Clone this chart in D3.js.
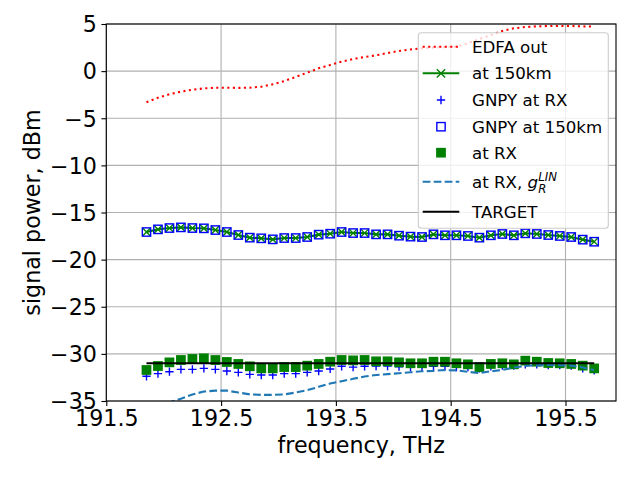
<!DOCTYPE html>
<html>
<head>
<meta charset="utf-8">
<script src="https://d3js.org/d3.v7.min.js"></script>
<style>
  body { margin: 0; background: #fff; }
  text { font-family: "DejaVu Sans", sans-serif; }
</style>
</head>
<body>
<div id="chart"></div>
<script>

let w = 640;
let h = 480;

// channel grid, 100 GHz spacing
let startFreq = 191.85;
let freqs = d3.range(40).map(i => +(startFreq + 0.1 * i).toFixed(2));

let xTicks = [191.5, 192.5, 193.5, 194.5, 195.5];
let yTicks = [-35, -30, -25, -20, -15, -10, -5, 0, 5];

let edfaOut = [-3.31, -2.82, -2.46, -2.18, -1.97, -1.83, -1.76, -1.76, -1.78, -1.76,
	-1.65, -1.40, -1.05, -0.62, -0.16, 0.30, 0.65, 1.00, 1.29, 1.50,
	1.68, 1.92, 2.14, 2.30, 2.42, 2.50, 2.55, 2.60, 2.95, 3.41,
	3.83, 4.26, 4.54, 4.68, 4.75, 4.79, 4.79, 4.79, 4.75, 4.72];

let at150km = [-17.07, -16.79, -16.65, -16.58, -16.65, -16.68, -16.86, -17.07, -17.39, -17.67,
	-17.74, -17.85, -17.71, -17.71, -17.60, -17.35, -17.25, -17.07, -17.18, -17.18,
	-17.32, -17.32, -17.46, -17.56, -17.60, -17.32, -17.42, -17.42, -17.49, -17.67,
	-17.42, -17.28, -17.42, -17.21, -17.28, -17.39, -17.49, -17.60, -17.88, -18.10];

let gnpyAtRx = [-32.38, -32.10, -31.89, -31.64, -31.64, -31.54, -31.64, -31.82, -31.96, -32.17,
	-32.24, -32.24, -32.10, -32.10, -31.96, -31.82, -31.60, -31.32, -31.40, -31.32,
	-31.29, -31.29, -31.36, -31.40, -31.40, -31.33, -31.33, -31.40, -31.40, -31.54,
	-31.33, -31.25, -31.25, -31.11, -31.11, -31.18, -31.18, -31.25, -31.54, -31.75];

let gnpyAt150km = [-17.07, -16.79, -16.65, -16.58, -16.65, -16.68, -16.86, -17.07, -17.39, -17.67,
	-17.74, -17.85, -17.71, -17.71, -17.60, -17.35, -17.25, -17.07, -17.18, -17.18,
	-17.32, -17.32, -17.46, -17.56, -17.60, -17.32, -17.42, -17.42, -17.49, -17.67,
	-17.42, -17.28, -17.42, -17.21, -17.28, -17.39, -17.49, -17.60, -17.88, -18.10];

let atRx = [-31.71, -31.29, -30.90, -30.65, -30.54, -30.47, -30.65, -30.86, -31.07, -31.32,
	-31.54, -31.54, -31.40, -31.40, -31.25, -31.07, -30.83, -30.65, -30.69, -30.65,
	-30.79, -30.79, -30.90, -31.00, -31.00, -30.83, -30.83, -31.00, -31.11, -31.40,
	-31.07, -31.00, -31.11, -30.72, -30.83, -30.97, -31.00, -31.07, -31.25, -31.54];

let atRxLin = [-36.0, -35.6, -35.15, -34.75, -34.3, -34.0, -33.9, -33.9, -34.1, -34.3,
	-34.35, -34.35, -34.3, -34.1, -33.85, -33.5, -33.15, -32.9, -32.65, -32.4,
	-32.25, -32.15, -32.05, -31.95, -31.85, -31.8, -31.72, -31.75, -31.9, -32.05,
	-31.85, -31.7, -31.45, -31.28, -31.22, -31.18, -31.2, -31.25, -31.45, -31.7];

let target = -31;

let margin = {left: 106.3, right: 24, top: 24, bottom: 79};

let svg = d3.select("#chart").append("svg")
	.attr("width", w)
	.attr("height", h)
	.style("background-color", "white")
;

let xScale = d3.scaleLinear().domain([191.5, 195.94]).range([margin.left, w - margin.right]);
let yScale = d3.scaleLinear().domain([-35, 5]).range([h - margin.bottom, margin.top]);

let fmt = d3.format("");

// grid
let grid = svg.append("g").attr("class", "grid");
grid.selectAll(".vgrid").data(xTicks).enter().append("line")
	.attr("x1", d => xScale(d)).attr("x2", d => xScale(d))
	.attr("y1", yScale.range()[0]).attr("y2", yScale.range()[1])
	.attr("stroke", "#b0b0b0").attr("stroke-width", 1.1);
grid.selectAll(".hgrid").data(yTicks).enter().append("line")
	.attr("y1", d => yScale(d)).attr("y2", d => yScale(d))
	.attr("x1", xScale.range()[0]).attr("x2", xScale.range()[1])
	.attr("stroke", "#b0b0b0").attr("stroke-width", 1.1);

// axes
let xAxis = d3.axisBottom(xScale).tickValues(xTicks).tickSize(4.9).tickPadding(4.5).tickFormat(d3.format(".1f"));
let yAxis = d3.axisLeft(yScale).tickValues(yTicks).tickSize(4.9).tickPadding(4.5).tickFormat(d3.format("d"));

let gx = svg.append("g").attr("transform", `translate(0,${yScale(-35)})`).call(xAxis);
let gy = svg.append("g").attr("transform", `translate(${xScale(191.5)},0)`).call(yAxis);
[gx, gy].forEach(g => {
	g.select(".domain").remove();
	g.selectAll(".tick line").attr("stroke", "black").attr("stroke-width", 1.1);
	g.selectAll(".tick text").attr("fill", "black").style("font-size", "22.2px");
});
gy.selectAll(".tick text").attr("dy", "0.35em");

// data
let clip = svg.append("clipPath").attr("id", "plotClip").append("rect")
	.attr("x", xScale.range()[0]).attr("y", yScale.range()[1])
	.attr("width", xScale.range()[1] - xScale.range()[0])
	.attr("height", yScale.range()[0] - yScale.range()[1]);

let plot = svg.append("g").attr("clip-path", "url(#plotClip)");

let line = d3.line().x(d => xScale(d[0])).y(d => yScale(d[1]));
let pairs = vals => freqs.map((f, i) => [f, vals[i]]);

let ms = 8.33;
let mw = 1.39;

function xMarker(g, cx, cy, color){
	let s = ms / 2;
	g.append("path")
		.attr("d", `M${cx - s},${cy - s}L${cx + s},${cy + s}M${cx - s},${cy + s}L${cx + s},${cy - s}`)
		.attr("stroke", color).attr("stroke-width", mw).attr("fill", "none");
}
function plusMarker(g, cx, cy, color){
	let s = ms / 2;
	g.append("path")
		.attr("d", `M${cx - s},${cy}L${cx + s},${cy}M${cx},${cy - s}L${cx},${cy + s}`)
		.attr("stroke", color).attr("stroke-width", mw).attr("fill", "none");
}
function squareMarker(g, cx, cy, stroke, fill){
	g.append("rect")
		.attr("x", cx - ms / 2).attr("y", cy - ms / 2)
		.attr("width", ms).attr("height", ms)
		.attr("stroke", stroke).attr("stroke-width", mw).attr("fill", fill);
}

// EDFA out
plot.append("path").datum(pairs(edfaOut))
	.attr("d", line).attr("fill", "none")
	.attr("stroke", "red").attr("stroke-width", 2.08)
	.attr("stroke-dasharray", "2.08,3.44");

// at 150km
plot.append("path").datum(pairs(at150km))
	.attr("d", line).attr("fill", "none")
	.attr("stroke", "green").attr("stroke-width", 2.08);
let g150 = plot.append("g");
pairs(at150km).forEach(d => xMarker(g150, xScale(d[0]), yScale(d[1]), "green"));

// GNPY at RX
let gGnRx = plot.append("g");
pairs(gnpyAtRx).forEach(d => plusMarker(gGnRx, xScale(d[0]), yScale(d[1]), "blue"));

// GNPY at 150km
let gGn150 = plot.append("g");
pairs(gnpyAt150km).forEach(d => squareMarker(gGn150, xScale(d[0]), yScale(d[1]), "blue", "none"));

// at RX
let gRx = plot.append("g");
pairs(atRx).forEach(d => squareMarker(gRx, xScale(d[0]), yScale(d[1]), "green", "green"));

// at RX, g_R^LIN
plot.append("path").datum(pairs(atRxLin))
	.attr("d", line).attr("fill", "none")
	.attr("stroke", "#1f77b4").attr("stroke-width", 2.08)
	.attr("stroke-dasharray", "7.7,3.3");

// TARGET
plot.append("path").datum([[freqs[0], target], [freqs[freqs.length - 1], target]])
	.attr("d", line).attr("fill", "none")
	.attr("stroke", "black").attr("stroke-width", 2.08);

// frame
svg.append("rect")
	.attr("x", xScale.range()[0]).attr("y", yScale.range()[1])
	.attr("width", xScale.range()[1] - xScale.range()[0])
	.attr("height", yScale.range()[0] - yScale.range()[1])
	.attr("fill", "none").attr("stroke", "black").attr("stroke-width", 1.1);

// axis labels
svg.append("text")
	.attr("x", (xScale.range()[0] + xScale.range()[1]) / 2).attr("y", 453)
	.attr("text-anchor", "middle").style("font-size", "22.2px")
	.text("frequency, THz");
svg.append("text")
	.attr("transform", `translate(40,${(yScale.range()[0] + yScale.range()[1]) / 2}) rotate(-90)`)
	.attr("text-anchor", "middle").style("font-size", "22.2px")
	.text("signal power, dBm");

// legend
let legend = svg.append("g").attr("class", "legend");
legend.append("rect")
	.attr("x", 418.3).attr("y", 32.7).attr("width", 190).attr("height", 195.6)
	.attr("rx", 3).attr("ry", 3)
	.attr("fill", "white").attr("fill-opacity", 0.8)
	.attr("stroke", "#cccccc").attr("stroke-width", 1.1);

let rowY = [46.7, 73.3, 100, 126.7, 152.7, 181.7, 211.7];
let hx0 = 422.7, hx1 = 459.3, hxm = (hx0 + hx1) / 2, tx = 472;

function legendLine(y, color, dash){
	legend.append("line").attr("x1", hx0).attr("x2", hx1).attr("y1", y).attr("y2", y)
		.attr("stroke", color).attr("stroke-width", 2.08)
		.attr("stroke-dasharray", dash || null);
}
function legendText(y, label){
	return legend.append("text").attr("x", tx).attr("y", y).attr("dy", "0.36em")
		.style("font-size", "16.67px").text(label);
}

legendLine(rowY[0], "red", "2.08,3.44");
legendText(rowY[0], "EDFA out");

legendLine(rowY[1], "green");
xMarker(legend, hxm, rowY[1], "green");
legendText(rowY[1], "at 150km");

plusMarker(legend, hxm, rowY[2], "blue");
legendText(rowY[2], "GNPY at RX");

squareMarker(legend, hxm, rowY[3], "blue", "none");
legendText(rowY[3], "GNPY at 150km");

squareMarker(legend, hxm, rowY[4], "green", "green");
legendText(rowY[4], "at RX");

legendLine(rowY[5], "#1f77b4", "7.7,3.3");
let lt = legendText(rowY[5], "at RX, ");
lt.attr("xml:space", "preserve").style("white-space", "pre");
let lw = lt.node().getComputedTextLength();
let baseY = rowY[5] + 6;
lt.attr("dy", null).attr("y", baseY);
let gText = legend.append("text").attr("x", tx + lw).attr("y", baseY)
	.style("font-size", "16.67px").style("font-style", "italic").text("g");
let gw = gText.node().getComputedTextLength();
legend.append("text").attr("x", tx + lw + gw).attr("y", baseY + 5)
	.style("font-size", "11.7px").style("font-style", "italic").text("R");
legend.append("text").attr("x", tx + lw + gw).attr("y", baseY - 7)
	.style("font-size", "11.7px").style("font-style", "italic").text("LIN");

legendLine(rowY[6], "black");
legendText(rowY[6], "TARGET");

</script>
</body>
</html>
